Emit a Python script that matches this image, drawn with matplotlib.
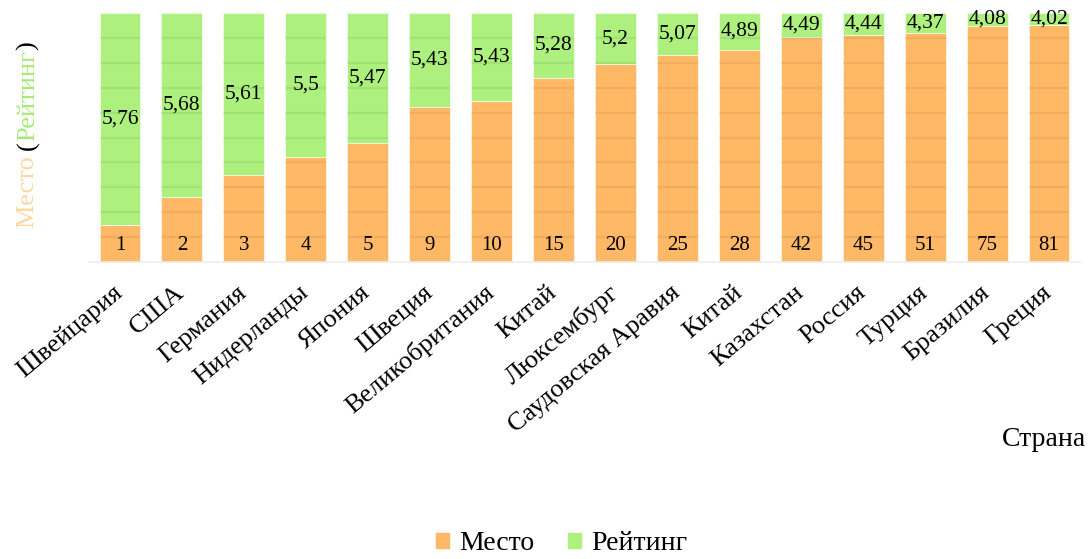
import matplotlib.pyplot as plt
import numpy as np

countries = ['Швейцария', 'США', 'Германия', 'Нидерланды', 'Япония', 'Швеция',
             'Великобритания', 'Китай', 'Люксембург', 'Саудовская Аравия', 'Китай',
             'Казахстан', 'Россия', 'Турция', 'Бразилия', 'Греция']
place = [1, 2, 3, 4, 5, 9, 10, 15, 20, 25, 28, 42, 45, 51, 75, 81]
rating = [5.76, 5.68, 5.61, 5.5, 5.47, 5.43, 5.43, 5.28, 5.2, 5.07, 4.89,
          4.49, 4.44, 4.37, 4.08, 4.02]

ORANGE = '#ffb865'
GREEN = '#adf07e'

plt.rcParams['font.family'] = ['Liberation Serif', 'DejaVu Serif']

fig = plt.figure(figsize=(10.89, 5.59), dpi=100)
ax = fig.add_axes([89 / 1089, 1 - 262 / 559, 991 / 1089, 249 / 559])

p = np.array(place, dtype=float)
r = np.array(rating)
tot = p + r
fp = p / tot
fr = r / tot
x = np.arange(len(countries))
w = 0.66

b1 = ax.bar(x, fp, w, color=ORANGE, edgecolor='white', linewidth=0.4, label='Место', zorder=2)
b2 = ax.bar(x, fr, w, bottom=fp, color=GREEN, edgecolor='white', linewidth=0.4, label='Рейтинг', zorder=2)

# faint grid lines only across the bars
grid = np.arange(0.1, 1.0, 0.1)
for xi in x:
    ax.hlines(grid, xi - w / 2, xi + w / 2, color='#000000', alpha=0.06, lw=1.6, zorder=3)

for xi, pv, rv, f0, f1 in zip(x, place, rating, fp, fr):
    ax.annotate(str(pv), (xi, 0), xytext=(0, 17), textcoords='offset pixels',
                ha='center', va='center', fontsize=15, zorder=4)
    ax.text(xi, f0 + f1 / 2, str(rv).replace('.', ','), ha='center', va='center',
            fontsize=15.5, zorder=4)

ax.set_xlim(-0.5, len(countries) - 0.5)
ax.set_ylim(0, 1)
ax.set_yticks([])
ax.set_xticks(x)
ax.set_xticklabels(countries, rotation=40, ha='right', va='center',
                   rotation_mode='anchor', fontsize=19)
ax.tick_params(axis='x', length=0, pad=20)
for s in ['top', 'right', 'left']:
    ax.spines[s].set_visible(False)
ax.spines['bottom'].set_color('#ececec')
ax.spines['bottom'].set_linewidth(1.2)

fig.text(1086 / 1089, 1 - 440 / 559, 'Страна', ha='right', va='center', fontsize=20)

# multicolour y label
fig.canvas.draw()
renderer = fig.canvas.get_renderer()
pieces = [('Место ', '#fcd8a4'), ('(', 'black'), ('Рейтинг', '#a8ea78'), (')', 'black')]
ypix = 559 - 228
for txt, col in pieces:
    t = fig.text(34 / 1089, ypix / 559, txt, rotation=90, rotation_mode='anchor',
                 ha='left', va='baseline', color=col, fontsize=19)
    ypix += t.get_window_extent(renderer).height

fig.legend(handles=[b1, b2], loc='center', bbox_to_anchor=(561 / 1089, 1 - 544 / 559),
           ncol=2, frameon=False, fontsize=20, handlelength=0.55, handleheight=0.55,
           handletextpad=0.3, columnspacing=1.2, borderpad=0.2)

fig.savefig('out.png', dpi=100)
